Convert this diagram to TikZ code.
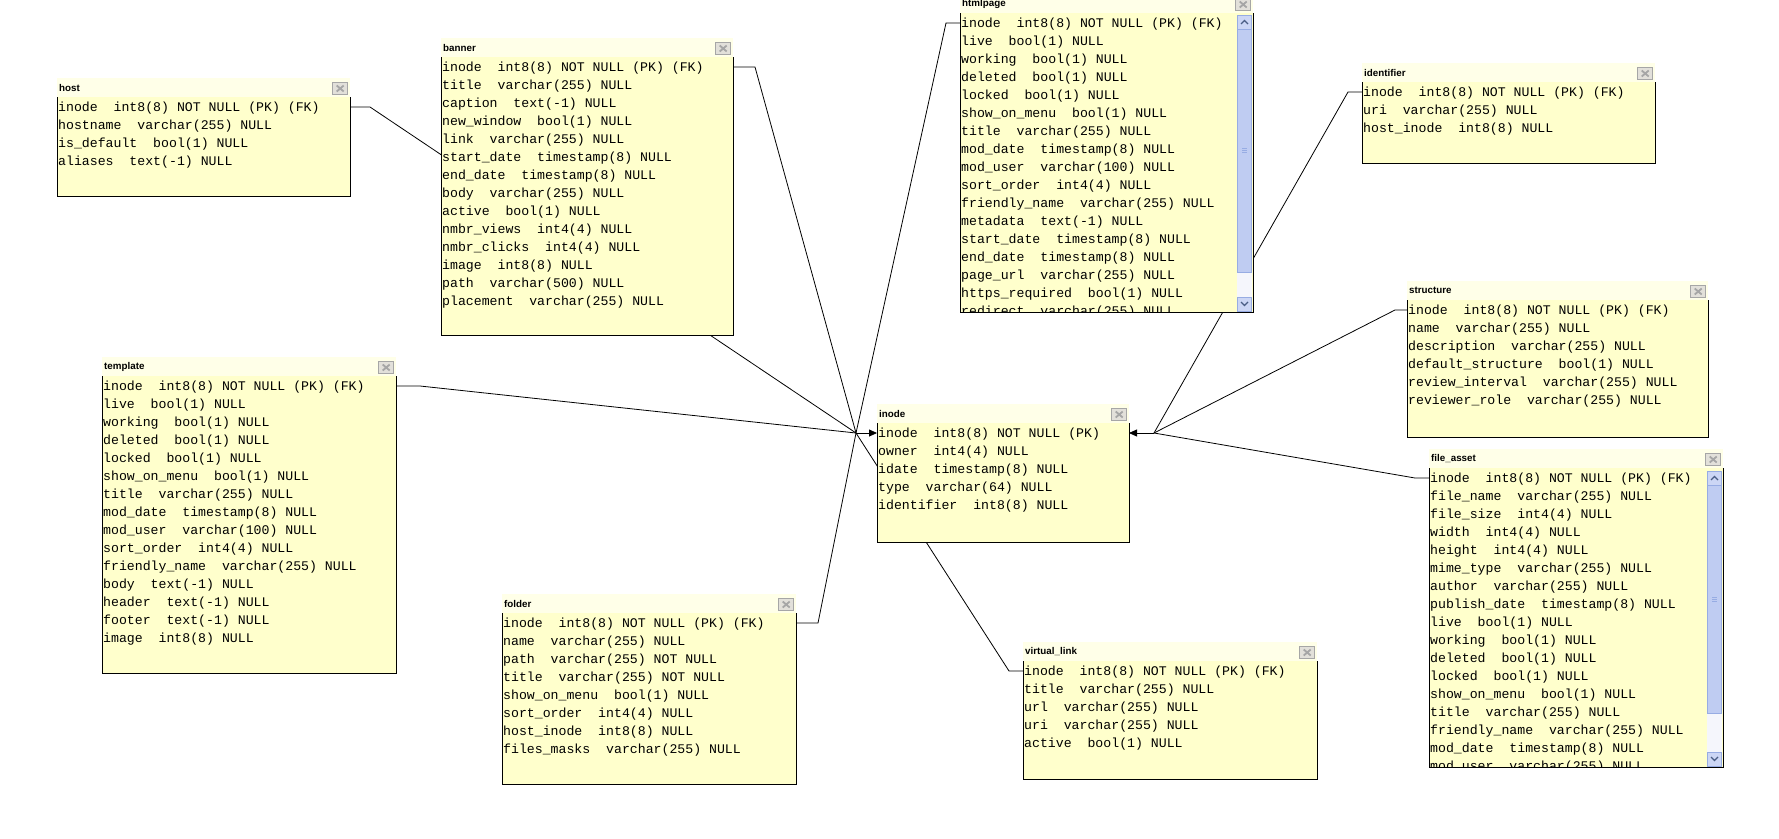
\documentclass[tikz,border=0pt]{standalone}
\usepackage{fontspec}
\usepackage{xcolor}
\usepackage{tikz}
\usetikzlibrary{arrows.meta,backgrounds}

\newfontfamily\colfont{Liberation Mono}
\newfontfamily\headfont{Liberation Sans}

\definecolor{headcol}{HTML}{FFFFE8}
\definecolor{bodycol}{HTML}{FFFFCC}
\definecolor{btncol}{HTML}{E2E0DA}
\definecolor{sbtrack}{HTML}{F5F6FC}
\definecolor{sbthumbcol}{HTML}{BFCCF2}
\definecolor{sbedge}{HTML}{97ACE3}
\definecolor{sbarrow}{HTML}{4A5D84}

% table: name, title, left, top of body, width, body height, rows
\newcommand{\dbtable}[7]{%
  \node[headbar, minimum width=#5, anchor=south west] (#1-head) at (#3,#4) {};
  \node[headtext, anchor=west] (#1-name) at ([xshift=2]#1-head.west) {#2};
  \node[closebtn, anchor=east] (#1-close) at ([xshift=-2,yshift=-1]#1-head.east) {};
  \node[tblbody, minimum width=#5, minimum height=#6, anchor=north west] (#1) at (#3,#4) {};
  \begin{scope}
    \clip (#1.south west) rectangle (#1.north east);
    \node[rows, anchor=north west] (#1-rows) at ([xshift=1,yshift=-4.6]#1.north west) {#7};
  \end{scope}
  \draw[tbledge] (#1.north west) |- (#1.south east) -- (#1.north east);
  \coordinate (#1-key-w) at ([yshift=-10]#1.north west);
  \coordinate (#1-key-e) at ([yshift=-10]#1.north east);
}

% scrollbar: left, top, end of thumb, bottom
\newcommand{\scrollbar}[4]{%
  \fill[sbtrack] (#1,#2) rectangle (#1+15,#4);
  \draw[sbthumb] (#1+0.5,#2+14) rectangle (#1+14.5,#3);
  \foreach \gy in {-2,0,2}
    \draw[sbedge, line width=0.6pt] (#1+5,{(#2+14+#3)/2+\gy}) -- ++(5,0);
  \draw[sbbtn] (#1+0.5,#2) rectangle (#1+14.5,#2+14);
  \draw[sbbtn] (#1+0.5,#4-14) rectangle (#1+14.5,#4);
  \draw[sbchev] (#1+4,#2+9) -- (#1+7.5,#2+5.5) -- (#1+11,#2+9);
  \draw[sbchev] (#1+4,#4-9) -- (#1+7.5,#4-5.5) -- (#1+11,#4-9);
}

\begin{document}
\begin{tikzpicture}[x=1pt, y=-1pt,
        headbar/.style={fill=headcol, minimum height=19, inner sep=0pt, outer sep=0pt},
        headtext/.style={font=\headfont\bfseries\fontsize{9.8}{11}\selectfont, inner sep=0pt},
        closebtn/.style={fill=btncol, draw=gray!70, line width=0.6pt, minimum width=15, minimum height=12, inner sep=0pt,
            path picture={\draw[line width=1.8pt] (path picture bounding box.center) ++(-3.5,-3) -- ++(7,6)
                (path picture bounding box.center) ++(-3.5,3) -- ++(7,-6);}},
        tblbody/.style={fill=bodycol, inner sep=0pt, outer sep=0pt},
        tbledge/.style={line width=1pt},
        rows/.style={font=\colfont\fontsize{13.2}{18}\selectfont, align=left, inner sep=0pt},
        sbthumb/.style={fill=sbthumbcol, draw=sbedge, line width=0.6pt},
        sbbtn/.style={fill=sbthumbcol!80!white, draw=sbedge, line width=0.6pt},
        sbchev/.style={draw=sbarrow, line width=1.3pt},
        link/.style={line width=0.8pt},
        hubarrow/.style={link, -{Triangle[length=8pt, width=7pt]}}
    ]
    \useasboundingbox (0,0) rectangle (1779,838);

    \dbtable{host}{host}{57}{97}{293}{99}{%
        inode~~int8(8) NOT NULL (PK) (FK)\\
        hostname~~varchar(255) NULL\\
        is\_default~~bool(1) NULL\\
        aliases~~text(-1) NULL}

    \dbtable{banner}{banner}{441}{57}{292}{278}{%
        inode~~int8(8) NOT NULL (PK) (FK)\\
        title~~varchar(255) NULL\\
        caption~~text(-1) NULL\\
        new\_window~~bool(1) NULL\\
        link~~varchar(255) NULL\\
        start\_date~~timestamp(8) NULL\\
        end\_date~~timestamp(8) NULL\\
        body~~varchar(255) NULL\\
        active~~bool(1) NULL\\
        nmbr\_views~~int4(4) NULL\\
        nmbr\_clicks~~int4(4) NULL\\
        image~~int8(8) NULL\\
        path~~varchar(500) NULL\\
        placement~~varchar(255) NULL}

    \dbtable{htmlpage}{htmlpage}{960}{13}{293}{299}{%
        inode~~int8(8) NOT NULL (PK) (FK)\\
        live~~bool(1) NULL\\
        working~~bool(1) NULL\\
        deleted~~bool(1) NULL\\
        locked~~bool(1) NULL\\
        show\_on\_menu~~bool(1) NULL\\
        title~~varchar(255) NULL\\
        mod\_date~~timestamp(8) NULL\\
        mod\_user~~varchar(100) NULL\\
        sort\_order~~int4(4) NULL\\
        friendly\_name~~varchar(255) NULL\\
        metadata~~text(-1) NULL\\
        start\_date~~timestamp(8) NULL\\
        end\_date~~timestamp(8) NULL\\
        page\_url~~varchar(255) NULL\\
        https\_required~~bool(1) NULL\\
        redirect~~varchar(255) NULL}
    \scrollbar{1237}{15}{272}{311}

    \dbtable{identifier}{identifier}{1362}{82}{293}{81}{%
        inode~~int8(8) NOT NULL (PK) (FK)\\
        uri~~varchar(255) NULL\\
        host\_inode~~int8(8) NULL}

    \dbtable{structure}{structure}{1407}{300}{301}{137}{%
        inode~~int8(8) NOT NULL (PK) (FK)\\
        name~~varchar(255) NULL\\
        description~~varchar(255) NULL\\
        default\_structure~~bool(1) NULL\\
        review\_interval~~varchar(255) NULL\\
        reviewer\_role~~varchar(255) NULL}

    \dbtable{fileasset}{file\_asset}{1429}{468}{294}{299}{%
        inode~~int8(8) NOT NULL (PK) (FK)\\
        file\_name~~varchar(255) NULL\\
        file\_size~~int4(4) NULL\\
        width~~int4(4) NULL\\
        height~~int4(4) NULL\\
        mime\_type~~varchar(255) NULL\\
        author~~varchar(255) NULL\\
        publish\_date~~timestamp(8) NULL\\
        live~~bool(1) NULL\\
        working~~bool(1) NULL\\
        deleted~~bool(1) NULL\\
        locked~~bool(1) NULL\\
        show\_on\_menu~~bool(1) NULL\\
        title~~varchar(255) NULL\\
        friendly\_name~~varchar(255) NULL\\
        mod\_date~~timestamp(8) NULL\\
        mod\_user~~varchar(255) NULL}
    \scrollbar{1707}{471}{713}{766}

    \dbtable{template}{template}{102}{376}{294}{297}{%
        inode~~int8(8) NOT NULL (PK) (FK)\\
        live~~bool(1) NULL\\
        working~~bool(1) NULL\\
        deleted~~bool(1) NULL\\
        locked~~bool(1) NULL\\
        show\_on\_menu~~bool(1) NULL\\
        title~~varchar(255) NULL\\
        mod\_date~~timestamp(8) NULL\\
        mod\_user~~varchar(100) NULL\\
        sort\_order~~int4(4) NULL\\
        friendly\_name~~varchar(255) NULL\\
        body~~text(-1) NULL\\
        header~~text(-1) NULL\\
        footer~~text(-1) NULL\\
        image~~int8(8) NULL}

    \dbtable{folder}{folder}{502}{613}{294}{171}{%
        inode~~int8(8) NOT NULL (PK) (FK)\\
        name~~varchar(255) NULL\\
        path~~varchar(255) NOT NULL\\
        title~~varchar(255) NOT NULL\\
        show\_on\_menu~~bool(1) NULL\\
        sort\_order~~int4(4) NULL\\
        host\_inode~~int8(8) NULL\\
        files\_masks~~varchar(255) NULL}

    \dbtable{inode}{inode}{877}{423}{252}{119}{%
        inode~~int8(8) NOT NULL (PK)\\
        owner~~int4(4) NULL\\
        idate~~timestamp(8) NULL\\
        type~~varchar(64) NULL\\
        identifier~~int8(8) NULL}

    \dbtable{vlink}{virtual\_link}{1023}{661}{294}{118}{%
        inode~~int8(8) NOT NULL (PK) (FK)\\
        title~~varchar(255) NULL\\
        url~~varchar(255) NULL\\
        uri~~varchar(255) NULL\\
        active~~bool(1) NULL}

    \coordinate (hub-l) at (856,433);
    \coordinate (hub-r) at (1154,433);

    \begin{pgfonlayer}{background}
        \fill[white] (0,0) rectangle (1779,838);
        \draw[link] (host-key-e) -- ++(20,0) -- (hub-l);
        \draw[link] (banner-key-e) -- ++(22,0) -- (hub-l);
        \draw[link] (template-key-e) -- ++(24,0) -- (hub-l);
        \draw[link] (folder-key-e) -- ++(22,0) -- (hub-l);
        \draw[link] (htmlpage-key-w) -- ++(-14,0) -- (hub-l);
        \draw[link] (vlink-key-w) -- ++(-14,0) -- (hub-l);
        \draw[hubarrow] (hub-l) -- (inode-key-w);

        \draw[link] (identifier-key-w) -- ++(-14,0) -- (hub-r);
        \draw[link] (structure-key-w) -- ++(-12,0) -- (hub-r);
        \draw[link] (fileasset-key-w) -- ++(-14,0) -- (hub-r);
        \draw[hubarrow] (hub-r) -- (inode-key-e);
    \end{pgfonlayer}
\end{tikzpicture}
\end{document}
